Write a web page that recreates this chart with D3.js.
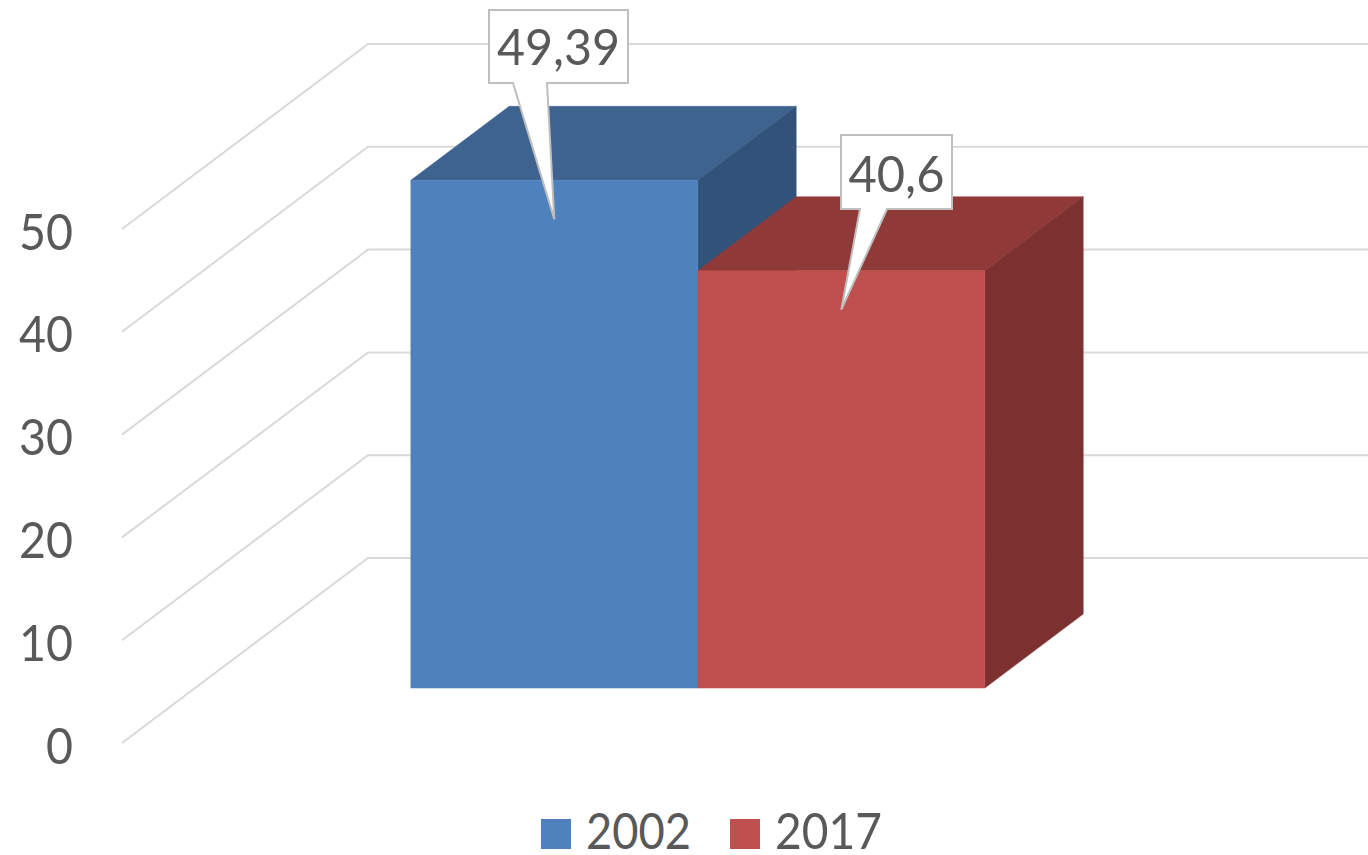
<!DOCTYPE html>
<html>
<head>
<meta charset="utf-8">
<script src="https://cdn.jsdelivr.net/npm/d3@7"></script>
<style>
  html, body { margin: 0; padding: 0; background: #fff; }
  svg { display: block; }
  text { font-family: Lato, 'Open Sans', sans-serif; fill: #595959; }
</style>
</head>
<body>
<div id="chart"></div>
<script>
const years = ['2002', '2017']
const values = [49.39, 40.6]
const valueLabels = ['49,39', '40,6']
const yTicks = [0, 10, 20, 30, 40, 50]

const frontColors = ['#4f81bd', '#c0504d']
const topColors = ['#3e638f', '#8f3a38']
const sideColors = ['#325379', '#7c3130']

const width = 1368
const height = 855
const fontSize = 50

// floor of the 3d box: how far the back wall is pushed from the front edge
const wallDx = 246
const wallDy = -185
const barDepth = [0.297, 0.697]
const wallLeft = 122
const wallRight = 1128

const y = d3.scaleLinear().domain([0, 50]).range([743, 229])
const x = d3.scaleBand()
  .domain(years)
  .range([122.5, 1127])
  .paddingInner(0)
  .paddingOuter(0.75)

// screen position of a point in the box, d is 0 (front) to 1 (back wall)
const project = (px, v, d) => [px + d * wallDx, y(v) + d * wallDy]

const svg = d3
  .select('#chart')
  .append('svg')
  .attr('width', width)
  .attr('height', height)

const line = d3.line()

// gridlines, side wall then back wall
svg
  .selectAll('.grid')
  .data(yTicks)
  .enter()
  .append('path')
  .attr('class', 'grid')
  .attr('d', d => line([project(wallLeft, d, 0), project(wallLeft, d, 1), project(wallRight, d, 1)]))
  .attr('fill', 'none')
  .attr('stroke', '#d9d9d9')
  .attr('stroke-width', 2)

const axis = svg
  .append('g')
  .attr('transform', 'translate(73,0)')
  .call(d3.axisLeft(y).tickValues(yTicks).tickSize(0).tickPadding(0))

axis.select('.domain').remove()
// lato runs wider than the original font, so squeeze the digits a bit
axis
  .selectAll('text')
  .attr('dy', 20)
  .attr('textLength', d => String(d).length * 27)
  .attr('lengthAdjust', 'spacingAndGlyphs')
  .style('font-size', fontSize + 'px')
  .style('font-family', "Lato, 'Open Sans', sans-serif")
  .style('fill', '#595959')

// bars, each one a box of three faces
const bars = svg
  .selectAll('.bar')
  .data(years)
  .enter()
  .append('g')
  .attr('class', 'bar')

const facePoints = (i, face) => {
  const x0 = x(years[i])
  const x1 = x0 + x.bandwidth()
  const v = values[i]
  const [d0, d1] = barDepth
  if (face === 'front') {
    return [project(x0, 0, d0), project(x0, v, d0), project(x1, v, d0), project(x1, 0, d0)]
  }
  if (face === 'top') {
    return [project(x0, v, d0), project(x0, v, d1), project(x1, v, d1), project(x1, v, d0)]
  }
  return [project(x1, 0, d0), project(x1, v, d0), project(x1, v, d1), project(x1, 0, d1)]
}

const faces = [
  { name: 'top', colors: topColors },
  { name: 'side', colors: sideColors },
  { name: 'front', colors: frontColors }
]

faces.forEach(face => {
  bars
    .append('path')
    .attr('d', (d, i) => line(facePoints(i, face.name)) + 'Z')
    .attr('fill', (d, i) => face.colors[i])
    .attr('stroke', (d, i) => face.colors[i])
    .attr('stroke-width', 0.5)
})

// callouts, the tip lands in the middle of the front face
const boxes = [
  { x0: 489, x1: 628, y0: 10, y1: 83, tail0: 513, tail1: 547, baseline: 65, textWidth: 123 },
  { x0: 841, x1: 952, y0: 135, y1: 209, tail0: 860, tail1: 887, baseline: 192, textWidth: 96 }
]

boxes.forEach((b, i) => {
  const tipX = project(x(years[i]) + x.bandwidth() / 2, 0, barDepth[0])[0]
  const tipY = project(0, values[i], barDepth[0])[1] + 39
  const points = [
    [b.x0, b.y0], [b.x1, b.y0], [b.x1, b.y1],
    [b.tail1, b.y1], [tipX, tipY], [b.tail0, b.y1], [b.x0, b.y1]
  ]
  svg
    .append('path')
    .attr('d', line(points) + 'Z')
    .attr('fill', '#fff')
    .attr('stroke', '#bfbfbf')
    .attr('stroke-width', 2)
  svg
    .append('text')
    .attr('x', (b.x0 + b.x1) / 2)
    .attr('y', b.baseline)
    .attr('text-anchor', 'middle')
    .attr('font-size', fontSize)
    .attr('textLength', b.textWidth)
    .attr('lengthAdjust', 'spacingAndGlyphs')
    .text(valueLabels[i])
})

// legend
const legendX = [541, 730]
const legendWidth = [105, 107]
years.forEach((year, i) => {
  svg
    .append('rect')
    .attr('x', legendX[i])
    .attr('y', 819)
    .attr('width', 30)
    .attr('height', 30)
    .attr('fill', frontColors[i])
  svg
    .append('text')
    .attr('x', legendX[i] + 45)
    .attr('y', 849)
    .attr('font-size', fontSize)
    .attr('textLength', legendWidth[i])
    .attr('lengthAdjust', 'spacingAndGlyphs')
    .text(year)
})
</script>
</body>
</html>
